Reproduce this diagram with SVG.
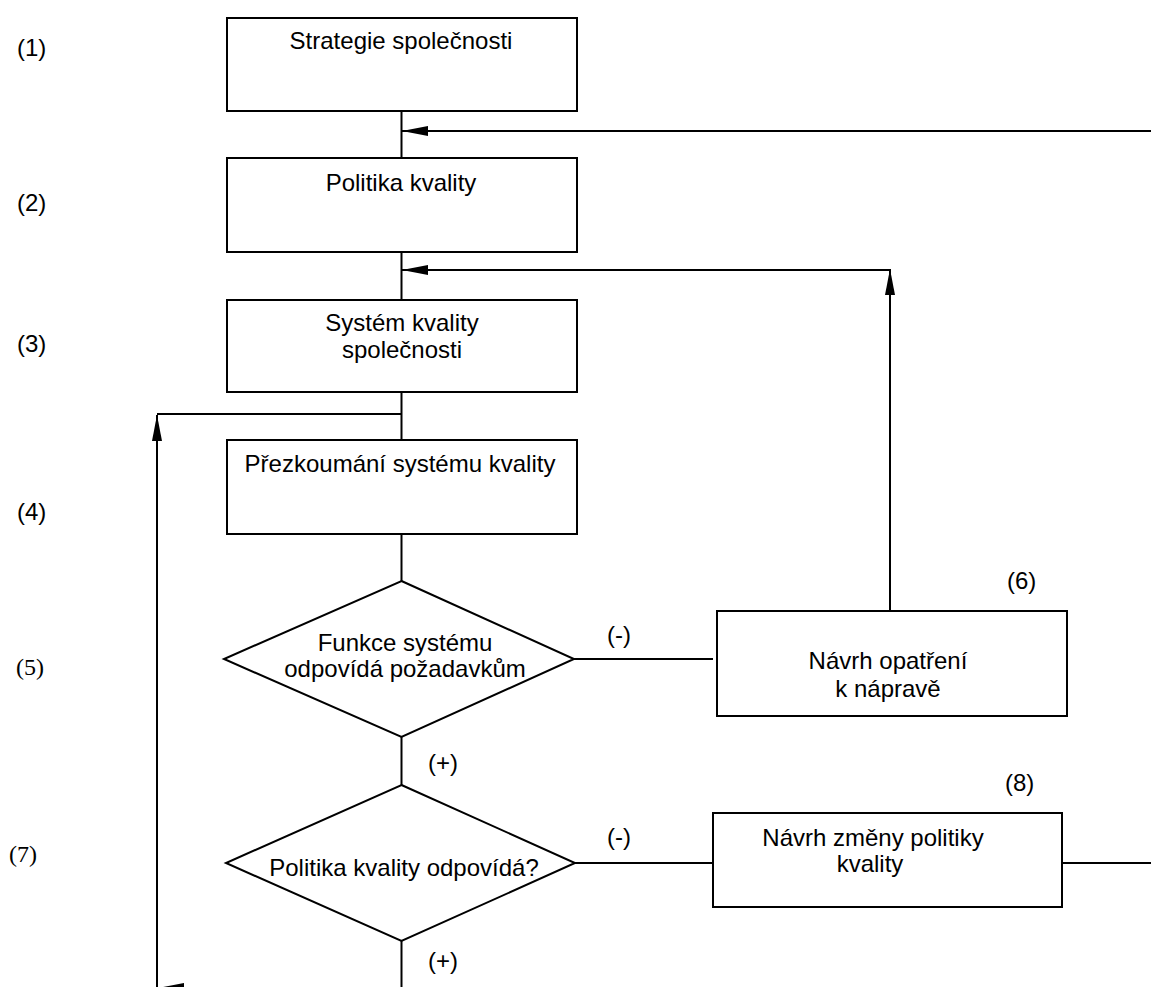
<svg xmlns="http://www.w3.org/2000/svg" width="1151" height="987" viewBox="0 0 1151 987">
<style>
.box{fill:#fff;stroke:#000;stroke-width:2}
.ln{fill:none;stroke:#000;stroke-width:2}
.t{font-family:"Liberation Sans",Arial,sans-serif;font-size:24px;fill:#000}
.c{text-anchor:middle}
.s{font-family:"Liberation Serif","Times New Roman",serif;font-size:24px;fill:#000}
</style>
<defs>
<marker id="ah" markerUnits="userSpaceOnUse" markerWidth="26" markerHeight="10" viewBox="0 0 26 10" refX="26" refY="5" orient="auto">
<path d="M0,0 L26,5 L0,10 Z" fill="#000"/>
</marker>
</defs>
<rect width="1151" height="987" fill="#fff"/>
<g id="connectors">
<line class="ln" x1="401.5" y1="111" x2="401.5" y2="158"/>
<line class="ln" x1="401.5" y1="252" x2="401.5" y2="300"/>
<line class="ln" x1="401.5" y1="392" x2="401.5" y2="440"/>
<line class="ln" x1="401.5" y1="534" x2="401.5" y2="581"/>
<line class="ln" x1="401.5" y1="737" x2="401.5" y2="785"/>
<line class="ln" x1="401.5" y1="941" x2="401.5" y2="990"/>
<line class="ln" x1="1151" y1="131" x2="402" y2="131" marker-end="url(#ah)"/>
<line class="ln" x1="890" y1="611" x2="890" y2="269" marker-end="url(#ah)"/>
<line class="ln" x1="890" y1="270" x2="402" y2="270" marker-end="url(#ah)"/>
<line class="ln" x1="401.5" y1="414" x2="157" y2="414"/>
<line class="ln" x1="157" y1="990" x2="157" y2="415" marker-end="url(#ah)"/>
<line class="ln" x1="401.5" y1="988" x2="158" y2="988" marker-end="url(#ah)"/>
<line class="ln" x1="574" y1="659" x2="713" y2="659"/>
<line class="ln" x1="575" y1="863" x2="713" y2="863"/>
<line class="ln" x1="1062" y1="863" x2="1151" y2="863"/>
</g>
<g id="n1"><rect class="box" x="227" y="18" width="350" height="93"/><text class="t c" x="401" y="49">Strategie společnosti</text></g>
<g id="n2"><rect class="box" x="227" y="158" width="350" height="94"/><text class="t c" x="401" y="191">Politika kvality</text></g>
<g id="n3"><rect class="box" x="227" y="300" width="350" height="92"/><text class="t c" x="402" y="331">Systém kvality</text><text class="t c" x="402" y="358">společnosti</text></g>
<g id="n4"><rect class="box" x="227" y="440" width="350" height="94"/><text class="t c" x="400" y="472">Přezkoumání systému kvality</text></g>
<g id="n5"><polygon class="box" points="401.5,581 574,659 401.5,737 224,659"/><text class="t c" x="405" y="651">Funkce systému</text><text class="t c" x="405" y="677">odpovídá požadavkům</text></g>
<g id="n6"><rect class="box" x="717" y="611" width="350" height="105"/><text class="t c" x="888" y="669">Návrh opatření</text><text class="t c" x="888" y="697">k nápravě</text></g>
<g id="n7"><polygon class="box" points="401.5,785 575,863 401.5,941 226,863"/><text class="t c" x="404" y="876">Politika kvality odpovídá?</text></g>
<g id="n8"><rect class="box" x="713" y="813" width="349" height="94"/><text class="t c" x="873" y="846">Návrh změny politiky</text><text class="t c" x="870" y="872">kvality</text></g>
<g id="labels">
<text class="t" x="17" y="56">(1)</text>
<text class="t" x="17" y="211">(2)</text>
<text class="t" x="17" y="352">(3)</text>
<text class="t" x="17" y="520">(4)</text>
<text class="s" x="16" y="675">(5)</text>
<text class="s" x="9" y="862">(7)</text>
<text class="t" x="1007" y="589">(6)</text>
<text class="t" x="1005" y="791">(8)</text>
<text class="t" x="607" y="643">(-)</text>
<text class="t" x="607" y="845">(-)</text>
<text class="t" x="428" y="771">(+)</text>
<text class="t" x="428" y="969">(+)</text>
</g>
</svg>
